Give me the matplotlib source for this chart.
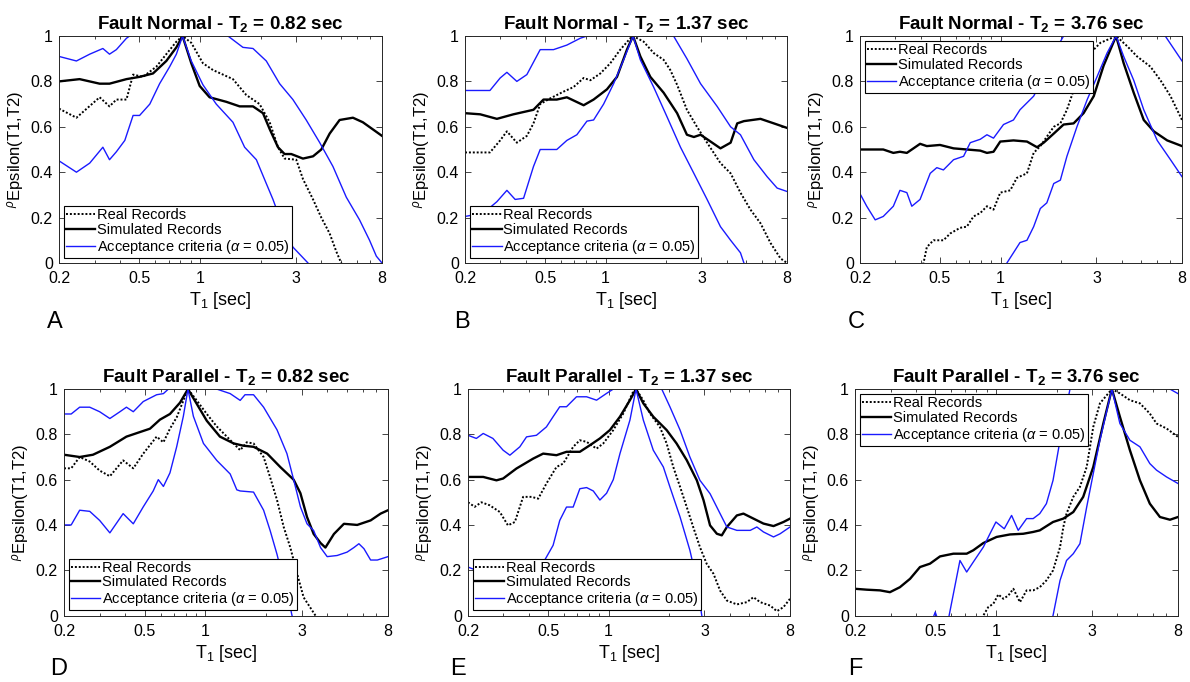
import matplotlib
matplotlib.use("Agg")
import matplotlib.pyplot as plt
from matplotlib.ticker import FixedLocator, FixedFormatter, LogLocator, NullFormatter

plt.rcParams["font.family"] = ["Liberation Sans", "DejaVu Sans"]
plt.rcParams["mathtext.fontset"] = "custom"
plt.rcParams["mathtext.rm"] = "Liberation Sans"
plt.rcParams["mathtext.it"] = "Liberation Sans:italic"
plt.rcParams["mathtext.bf"] = "Liberation Sans:bold"

# ---- data (T1 in sec, correlation) ----
# A: Fault Normal, T2 = 0.82
a_real_t = [0.2, 0.244, 0.318, 0.356, 0.385, 0.432, 0.466, 0.522, 0.608, 0.681, 0.764, 0.82, 0.906, 1.035,
            1.161, 1.458, 1.698, 1.977, 2.218, 2.439, 2.63, 3.005, 3.243, 3.64, 4.0, 4.4, 4.75, 5.02, 5.3]
a_real_r = [0.68, 0.64, 0.73, 0.69, 0.72, 0.72, 0.83, 0.82, 0.865, 0.92, 0.975, 1.0, 0.97, 0.88,
            0.85, 0.81, 0.74, 0.70, 0.62, 0.51, 0.46, 0.455, 0.37, 0.28, 0.20, 0.13, 0.05, 0.0, -0.05]
a_sim_t = [0.2, 0.253, 0.318, 0.356, 0.432, 0.502, 0.585, 0.681, 0.764, 0.82, 0.906, 0.997, 1.117, 1.352,
           1.574, 1.833, 2.055, 2.218, 2.439, 2.63, 2.838, 3.243, 3.64, 4.0, 4.4, 4.93, 5.74, 6.43, 8.0]
a_sim_r = [0.80, 0.81, 0.79, 0.79, 0.81, 0.82, 0.835, 0.89, 0.95, 1.0, 0.88, 0.78, 0.73, 0.71,
           0.69, 0.69, 0.66, 0.59, 0.51, 0.48, 0.48, 0.46, 0.47, 0.50, 0.57, 0.63, 0.64, 0.62, 0.56]
a_up_t = [0.2, 0.244, 0.284, 0.330, 0.356, 0.385, 0.432, 0.448, 0.55, 0.82, 1.2, 1.377, 1.634, 1.833,
          2.134, 2.485, 2.892, 3.367, 3.93, 4.57, 5.32, 6.19, 6.94, 7.5, 8.0]
a_up_r = [0.91, 0.89, 0.92, 0.945, 0.92, 0.94, 0.99, 1.0, 1.05, 1.1, 1.05, 1.0, 0.95, 0.945,
          0.89, 0.79, 0.72, 0.63, 0.53, 0.425, 0.29, 0.19, 0.10, 0.03, 0.0]
a_lo_t = [0.2, 0.244, 0.284, 0.330, 0.356, 0.385, 0.424, 0.466, 0.502, 0.564, 0.631, 0.708, 0.764, 0.82,
          0.906, 1.035, 1.205, 1.458, 1.666, 1.905, 2.134, 2.303, 2.582, 2.892, 3.435, 3.6]
a_lo_r = [0.45, 0.40, 0.44, 0.51, 0.455, 0.49, 0.54, 0.65, 0.65, 0.70, 0.79, 0.865, 0.92, 1.0,
          0.89, 0.785, 0.70, 0.62, 0.51, 0.455, 0.35, 0.28, 0.16, 0.07, 0.0, -0.02]

# B: Fault Normal, T2 = 1.37
b_real_t = [0.2, 0.266, 0.299, 0.323, 0.362, 0.406, 0.438, 0.473, 0.530, 0.618, 0.693, 0.778, 0.840, 0.942,
            1.056, 1.184, 1.328, 1.37, 1.548, 1.735, 1.946, 2.10, 2.27, 2.54, 2.85, 3.20, 3.73, 4.19,
            4.69, 5.26, 5.90, 6.62, 7.42, 8.0]
b_real_r = [0.487, 0.487, 0.54, 0.58, 0.53, 0.56, 0.615, 0.70, 0.725, 0.755, 0.775, 0.815, 0.805, 0.835,
            0.88, 0.94, 0.99, 1.0, 0.975, 0.925, 0.895, 0.85, 0.785, 0.675, 0.60, 0.53, 0.44, 0.395,
            0.31, 0.235, 0.175, 0.088, 0.02, 0.0]
b_sim_t = [0.2, 0.238, 0.288, 0.348, 0.438, 0.491, 0.572, 0.642, 0.778, 0.872, 1.016, 1.14, 1.278, 1.37,
           1.49, 1.67, 1.946, 2.27, 2.54, 2.75, 2.97, 3.33, 3.73, 4.19, 4.52, 4.88, 5.90, 6.88, 8.0]
b_sim_r = [0.66, 0.655, 0.635, 0.655, 0.675, 0.72, 0.72, 0.73, 0.695, 0.72, 0.765, 0.82, 0.94, 1.0,
           0.91, 0.82, 0.75, 0.66, 0.565, 0.555, 0.565, 0.535, 0.505, 0.53, 0.615, 0.625, 0.635, 0.615, 0.595]
b_up_t = [0.2, 0.266, 0.299, 0.323, 0.362, 0.406, 0.473, 0.551, 0.642, 0.748, 0.808, 1.0, 1.37, 2.0,
          2.18, 2.54, 2.97, 3.59, 4.19, 4.69, 5.47, 6.37, 7.14, 8.0]
b_up_r = [0.76, 0.76, 0.815, 0.84, 0.80, 0.83, 0.94, 0.94, 0.96, 0.99, 1.0, 1.06, 1.1, 1.06,
          1.0, 0.90, 0.79, 0.69, 0.60, 0.565, 0.455, 0.38, 0.33, 0.315]
b_lo_t = [0.2, 0.247, 0.288, 0.323, 0.355, 0.391, 0.438, 0.473, 0.572, 0.642, 0.720, 0.808, 0.872, 0.978,
          1.097, 1.23, 1.37, 1.49, 1.735, 2.02, 2.36, 2.75, 3.20, 3.73, 4.19, 4.69, 4.88, 5.3]
b_lo_r = [0.205, 0.22, 0.27, 0.32, 0.28, 0.285, 0.425, 0.50, 0.50, 0.54, 0.565, 0.625, 0.63, 0.70,
          0.79, 0.895, 1.0, 0.895, 0.775, 0.645, 0.51, 0.395, 0.28, 0.16, 0.10, 0.045, 0.0, -0.05]

# C: Fault Normal, T2 = 3.76
c_real_t = [0.40, 0.414, 0.43, 0.464, 0.52, 0.562, 0.63, 0.68, 0.734, 0.793, 0.856, 0.923, 0.997, 1.118,
            1.206, 1.354, 1.462, 1.578, 1.84, 1.985, 2.14, 2.31, 2.50, 2.80, 3.14, 3.76, 4.27, 4.78,
            5.57, 6.25, 7.01, 8.0]
c_real_r = [-0.02, 0.0, 0.07, 0.10, 0.10, 0.13, 0.155, 0.16, 0.205, 0.22, 0.25, 0.235, 0.31, 0.32,
            0.375, 0.395, 0.485, 0.515, 0.60, 0.615, 0.675, 0.76, 0.82, 0.925, 0.97, 1.0, 0.955, 0.91,
            0.865, 0.805, 0.735, 0.63]
c_sim_t = [0.2, 0.261, 0.293, 0.316, 0.342, 0.369, 0.398, 0.43, 0.50, 0.584, 0.68, 0.793, 0.856, 0.923,
           0.997, 1.16, 1.354, 1.52, 1.64, 1.84, 2.06, 2.31, 2.59, 2.91, 3.26, 3.76, 4.10, 4.60, 5.16,
           5.79, 6.75, 8.0]
c_sim_r = [0.50, 0.50, 0.485, 0.49, 0.485, 0.505, 0.525, 0.515, 0.52, 0.505, 0.50, 0.495, 0.485, 0.49,
           0.535, 0.54, 0.535, 0.51, 0.53, 0.57, 0.61, 0.615, 0.66, 0.735, 0.87, 1.0, 0.88, 0.75, 0.63,
           0.58, 0.54, 0.515]
c_up_t = [0.2, 0.216, 0.238, 0.261, 0.293, 0.316, 0.342, 0.362, 0.398, 0.447, 0.482, 0.52, 0.584, 0.655,
          0.707, 0.793, 0.856, 0.923, 1.035, 1.16, 1.25, 1.462, 1.64, 1.84, 2.06, 3.0, 4.5, 6.6, 8.0]
c_up_r = [0.305, 0.25, 0.19, 0.205, 0.25, 0.32, 0.31, 0.25, 0.28, 0.395, 0.42, 0.41, 0.455, 0.47,
          0.53, 0.545, 0.565, 0.55, 0.61, 0.63, 0.675, 0.735, 0.82, 0.925, 1.0, 1.15, 1.1, 1.0, 0.89]
c_lo_t = [1.04, 1.076, 1.16, 1.25, 1.354, 1.462, 1.578, 1.70, 1.84, 1.985, 2.14, 2.40, 2.70, 3.02,
          3.39, 3.76, 4.10, 4.60, 5.16, 6.02, 7.01, 8.0]
c_lo_r = [-0.03, 0.0, 0.045, 0.09, 0.10, 0.16, 0.24, 0.265, 0.35, 0.365, 0.47, 0.60, 0.72, 0.82,
          0.925, 1.0, 0.91, 0.805, 0.675, 0.54, 0.455, 0.38]

# D: Fault Parallel, T2 = 0.82
d_real_t = [0.2, 0.217, 0.239, 0.268, 0.30, 0.337, 0.392, 0.44, 0.493, 0.574, 0.62, 0.668, 0.721, 0.82,
            0.906, 1.016, 1.138, 1.326, 1.486, 1.60, 1.73, 1.94, 2.09, 2.26, 2.44, 2.63, 2.84, 3.06,
            3.30, 3.50, 3.7]
d_real_r = [0.65, 0.65, 0.70, 0.68, 0.64, 0.615, 0.685, 0.65, 0.715, 0.79, 0.765, 0.825, 0.875, 1.0,
            0.95, 0.89, 0.835, 0.775, 0.73, 0.765, 0.76, 0.70, 0.61, 0.51, 0.39, 0.30, 0.185, 0.08,
            0.035, 0.0, -0.03]
d_sim_t = [0.2, 0.239, 0.278, 0.337, 0.407, 0.474, 0.532, 0.596, 0.668, 0.749, 0.82, 0.906, 1.016, 1.18,
           1.38, 1.54, 1.73, 2.02, 2.35, 2.73, 2.95, 3.18, 3.43, 3.71, 3.92, 4.32, 4.84, 5.63, 6.56,
           7.35, 8.0]
d_sim_r = [0.71, 0.70, 0.71, 0.745, 0.79, 0.81, 0.825, 0.865, 0.89, 0.94, 1.0, 0.935, 0.86, 0.79,
           0.76, 0.75, 0.745, 0.715, 0.655, 0.60, 0.54, 0.435, 0.36, 0.32, 0.30, 0.36, 0.405, 0.40, 0.42,
           0.45, 0.465]
d_up_t = [0.2, 0.217, 0.239, 0.268, 0.30, 0.337, 0.378, 0.407, 0.44, 0.493, 0.574, 0.62, 0.656, 0.82,
          1.0, 1.138, 1.326, 1.486, 1.57, 1.73, 1.94, 2.26, 2.53, 2.73, 2.95, 3.18, 3.43, 3.71, 4.0,
          4.48, 5.02, 5.42, 5.74, 6.08, 6.56, 7.08, 8.0]
d_up_r = [0.89, 0.89, 0.92, 0.92, 0.90, 0.87, 0.90, 0.92, 0.90, 0.945, 0.975, 0.98, 1.0, 1.08,
          1.04, 1.0, 0.98, 0.95, 0.975, 0.975, 0.92, 0.82, 0.715, 0.60, 0.48, 0.405, 0.375, 0.30, 0.26,
          0.265, 0.28, 0.30, 0.317, 0.295, 0.245, 0.245, 0.26]
d_lo_t = [0.2, 0.217, 0.239, 0.268, 0.30, 0.337, 0.392, 0.44, 0.493, 0.552, 0.585, 0.62, 0.668, 0.721,
          0.778, 0.82, 0.872, 0.978, 1.138, 1.326, 1.43, 1.486, 1.73, 1.94, 2.09, 2.26, 2.44, 2.63,
          2.68, 2.75]
d_lo_r = [0.40, 0.40, 0.465, 0.46, 0.42, 0.365, 0.45, 0.405, 0.48, 0.55, 0.60, 0.57, 0.63, 0.745,
          0.88, 1.0, 0.88, 0.76, 0.685, 0.625, 0.555, 0.55, 0.545, 0.465, 0.375, 0.27, 0.15, 0.035,
          0.0, -0.03]

# E: Fault Parallel, T2 = 1.37
e_real_t = [0.2, 0.216, 0.233, 0.256, 0.288, 0.316, 0.342, 0.376, 0.414, 0.447, 0.491, 0.551, 0.595, 0.667,
            0.72, 0.778, 0.872, 0.942, 1.056, 1.184, 1.328, 1.37, 1.49, 1.608, 1.80, 1.946, 2.10, 2.27,
            2.45, 2.64, 2.85, 3.08, 3.33, 3.59, 3.88, 4.35, 4.88, 5.26, 5.68, 6.37, 6.88, 7.42, 8.0]
e_real_r = [0.50, 0.48, 0.50, 0.487, 0.457, 0.398, 0.413, 0.524, 0.524, 0.516, 0.583, 0.656, 0.671, 0.745,
            0.774, 0.767, 0.737, 0.76, 0.819, 0.892, 0.99, 1.0, 0.95, 0.892, 0.833, 0.76, 0.656, 0.568,
            0.479, 0.39, 0.302, 0.228, 0.184, 0.11, 0.066, 0.049, 0.059, 0.081, 0.059, 0.044, 0.019,
            0.037, 0.074]
e_sim_t = [0.2, 0.238, 0.277, 0.299, 0.348, 0.422, 0.473, 0.551, 0.618, 0.72, 0.808, 0.906, 1.016, 1.14,
           1.278, 1.37, 1.49, 1.67, 1.946, 2.18, 2.45, 2.75, 2.97, 3.20, 3.46, 3.66, 3.88, 4.35, 4.69,
           5.26, 5.90, 6.62, 7.42, 8.0]
e_sim_r = [0.612, 0.612, 0.597, 0.605, 0.649, 0.693, 0.715, 0.708, 0.723, 0.723, 0.752, 0.782, 0.819, 0.878,
           0.951, 1.0, 0.937, 0.878, 0.819, 0.76, 0.686, 0.597, 0.509, 0.398, 0.361, 0.354, 0.391, 0.442,
           0.45, 0.428, 0.406, 0.395, 0.413, 0.428]
e_up_t = [0.2, 0.22, 0.238, 0.266, 0.299, 0.323, 0.362, 0.391, 0.438, 0.491, 0.53, 0.572, 0.618, 0.693,
          0.778, 0.872, 0.978, 1.056, 1.37, 1.84, 2.02, 2.27, 2.54, 2.85, 3.20, 3.59, 3.88, 4.35, 5.07,
          5.47, 5.90, 6.62, 7.14, 8.0]
e_up_r = [0.796, 0.782, 0.804, 0.782, 0.73, 0.708, 0.745, 0.789, 0.796, 0.833, 0.878, 0.922, 0.922, 0.966,
          0.966, 0.951, 0.981, 1.0, 1.08, 1.0, 0.922, 0.819, 0.70, 0.597, 0.538, 0.45, 0.391, 0.376,
          0.376, 0.391, 0.369, 0.347, 0.361, 0.391]
e_lo_t = [0.2, 0.25, 0.35, 0.45, 0.491, 0.53, 0.572, 0.618, 0.667, 0.72, 0.778, 0.84, 0.906, 0.978,
          1.056, 1.14, 1.278, 1.37, 1.49, 1.67, 1.874, 2.02, 2.27, 2.54, 2.75, 2.91, 3.0]
e_lo_r = [0.214, 0.18, 0.15, 0.20, 0.258, 0.31, 0.42, 0.479, 0.479, 0.56, 0.565, 0.55, 0.51, 0.54,
          0.60, 0.715, 0.863, 1.0, 0.863, 0.73, 0.656, 0.568, 0.435, 0.288, 0.155, 0.0, -0.05]

# F: Fault Parallel, T2 = 3.76
f_real_t = [0.84, 0.866, 0.916, 0.971, 1.028, 1.088, 1.152, 1.22, 1.316, 1.42, 1.53, 1.65, 1.78, 1.92,
            2.08, 2.16, 2.24, 2.42, 2.61, 2.82, 3.04, 3.28, 3.76, 4.12, 4.62, 5.18, 5.80, 6.26, 7.02, 8.0]
f_real_r = [-0.03, 0.0, 0.037, 0.052, 0.093, 0.074, 0.088, 0.118, 0.059, 0.111, 0.111, 0.125, 0.155, 0.199,
            0.302, 0.391, 0.45, 0.524, 0.568, 0.656, 0.833, 0.937, 1.0, 0.981, 0.951, 0.937, 0.892,
            0.848, 0.826, 0.789]
f_sim_t = [0.2, 0.229, 0.266, 0.298, 0.334, 0.375, 0.42, 0.471, 0.528, 0.615, 0.716, 0.772, 0.866, 1.008,
           1.174, 1.366, 1.53, 1.65, 1.92, 2.16, 2.42, 2.71, 3.04, 3.41, 3.76, 4.12, 4.62, 5.18, 5.80,
           6.51, 7.30, 8.0]
f_sim_r = [0.118, 0.114, 0.111, 0.103, 0.125, 0.162, 0.214, 0.229, 0.261, 0.273, 0.273, 0.288, 0.32, 0.347,
           0.358, 0.361, 0.369, 0.376, 0.413, 0.428, 0.457, 0.524, 0.656, 0.848, 1.0, 0.878, 0.73,
           0.597, 0.494, 0.435, 0.423, 0.435]
f_up_t = [0.47, 0.50, 0.53, 0.58, 0.663, 0.716, 0.772, 0.866, 0.934, 1.0, 1.10, 1.196, 1.29, 1.42,
          1.53, 1.65, 1.78, 1.92, 2.08, 2.24, 2.33, 3.76, 7.30, 8.0]
f_up_r = [-0.05, 0.015, -0.05, -0.02, 0.243, 0.192, 0.236, 0.302, 0.361, 0.413, 0.383, 0.442, 0.376, 0.428,
          0.428, 0.45, 0.494, 0.597, 0.774, 0.922, 1.0, 1.2, 1.0, 0.98]
f_lo_t = [1.88, 1.92, 2.08, 2.24, 2.42, 2.61, 2.82, 3.04, 3.28, 3.76, 4.12, 4.62, 5.18, 5.80, 6.26,
          7.02, 8.0]
f_lo_r = [-0.03, 0.0, 0.155, 0.243, 0.273, 0.317, 0.479, 0.627, 0.774, 1.0, 0.848, 0.774, 0.745, 0.671,
          0.642, 0.612, 0.583]

panels = [
    ("Fault Normal", "0.82", "A", [0.0496, 0.6144, 0.2714, 0.3328], (0.0395, 0.519), "lower left",
     a_real_t, a_real_r, a_sim_t, a_sim_r, a_up_t, a_up_r, a_lo_t, a_lo_r),
    ("Fault Normal", "1.37", "B", [0.3908, 0.6144, 0.2706, 0.3328], (0.382, 0.519), "lower left",
     b_real_t, b_real_r, b_sim_t, b_sim_r, b_up_t, b_up_r, b_lo_t, b_lo_r),
    ("Fault Normal", "3.76", "C", [0.7227, 0.6144, 0.2706, 0.3328], (0.712, 0.519), "upper left",
     c_real_t, c_real_r, c_sim_t, c_sim_r, c_up_t, c_up_r, c_lo_t, c_lo_r),
    ("Fault Parallel", "0.82", "D", [0.0538, 0.0975, 0.2723, 0.332], (0.042, 0.0103), "lower left",
     d_real_t, d_real_r, d_sim_t, d_sim_r, d_up_t, d_up_r, d_lo_t, d_lo_r),
    ("Fault Parallel", "1.37", "E", [0.3933, 0.0975, 0.2706, 0.332], (0.378, 0.0103), "lower left",
     e_real_t, e_real_r, e_sim_t, e_sim_r, e_up_t, e_up_r, e_lo_t, e_lo_r),
    ("Fault Parallel", "3.76", "F", [0.7185, 0.0975, 0.2714, 0.332], (0.7126, 0.0103), "upper left",
     f_real_t, f_real_r, f_sim_t, f_sim_r, f_up_t, f_up_r, f_lo_t, f_lo_r),
]

x_ticks = [0.2, 0.5, 1, 3, 8]
x_labels = ["0.2", "0.5", "1", "3", "8"]
y_ticks = [0, 0.2, 0.4, 0.6, 0.8, 1]
y_labels = ["0", "0.2", "0.4", "0.6", "0.8", "1"]

fig = plt.figure(figsize=(11.9, 6.82), dpi=100)

for (comp, t2, letter, pos, lpos, legloc,
     rt, rr, st, sr, ut, ur, lt, lr) in panels:
    ax = fig.add_axes(pos)
    ax.plot(rt, rr, color="black", linestyle=(0, (1, 1)), linewidth=1.4, label="Real Records")
    ax.plot(st, sr, color="black", linestyle="-", linewidth=1.7, label="Simulated Records")
    ax.plot(ut, ur, color="#1a1aff", linewidth=1.0,
            label=r"Acceptance criteria ($\alpha$ = 0.05)")
    ax.plot(lt, lr, color="#1a1aff", linewidth=1.0)

    ax.set_xscale("log")
    ax.set_xlim(0.2, 8)
    ax.set_ylim(0, 1)
    ax.xaxis.set_major_locator(FixedLocator(x_ticks))
    ax.xaxis.set_major_formatter(FixedFormatter(x_labels))
    ax.xaxis.set_minor_locator(LogLocator(base=10, subs=range(2, 10)))
    ax.xaxis.set_minor_formatter(NullFormatter())
    ax.yaxis.set_major_locator(FixedLocator(y_ticks))
    ax.yaxis.set_major_formatter(FixedFormatter(y_labels))
    ax.tick_params(which="both", direction="in", top=True, right=True,
                   labelsize=11.5, color="#262626", width=0.6)
    ax.tick_params(axis="x", pad=6)
    ax.tick_params(axis="y", pad=4.5)
    ax.tick_params(which="major", length=4.5)
    ax.tick_params(which="minor", length=2.5)
    for sp in ax.spines.values():
        sp.set_linewidth(0.7)
        sp.set_color("#262626")

    ax.set_title(comp + r" - T$_\mathbf{2}$ = " + t2 + " sec",
                 fontsize=13.5, fontweight="bold", pad=5)
    ax.set_xlabel(r"T$_1$ [sec]", fontsize=13, labelpad=3)
    # small rho sitting above the (larger) subscript text, as in the original
    ax.set_ylabel(r"${}^{\rho}$Epsilon(T1,T2)", fontsize=12, labelpad=3)

    leg = ax.legend(loc=legloc, fontsize=10.5, frameon=True, fancybox=False,
                    edgecolor="black", framealpha=1, borderpad=0.15,
                    labelspacing=0.05, handlelength=2.0, handletextpad=0.1,
                    borderaxespad=0.35)
    leg.get_frame().set_linewidth(0.8)

    fig.text(lpos[0], lpos[1], letter, fontsize=17, va="baseline", ha="left")

fig.savefig("out.png", dpi=100)
